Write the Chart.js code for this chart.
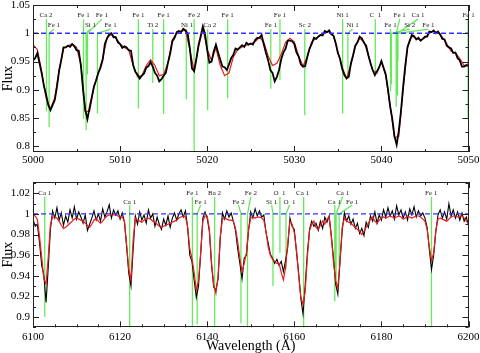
<!DOCTYPE html>
<html>
<head>
<meta charset="utf-8">
<script src="https://cdn.jsdelivr.net/npm/chart.js@4.4.1/dist/chart.umd.min.js"></script>
<style>
  html, body { margin: 0; padding: 0; background: #fff; }
  #wrap { position: relative; width: 480px; height: 353px; overflow: hidden; }
  #topChart { position: absolute; left: 0; top: 0; }
  #botChart { position: absolute; left: 0; top: 170px; }
</style>
</head>
<body>
<div id="wrap">
  <canvas id="topChart" width="480" height="170"></canvas>
  <canvas id="botChart" width="480" height="183"></canvas>
</div>
<script>
// ---- top panel: 5000-5050 A ----
const topStart = 5000, topStep = 0.25;
const topFlux = [
  0.952,0.956,0.965,0.947,0.929,0.907,0.892,0.873,0.864,0.873,0.882,0.905,0.934,0.953,0.975,0.975,0.978,0.976,0.981,0.977,
  0.970,0.969,0.943,0.900,0.864,0.848,0.869,0.887,0.906,0.917,0.930,0.939,0.953,0.981,0.991,0.998,1.000,0.993,0.993,0.984,
  0.981,0.974,0.977,0.975,0.970,0.969,0.944,0.932,0.927,0.920,0.925,0.929,0.939,0.942,0.949,0.941,0.930,0.925,0.915,0.919,
  0.925,0.930,0.948,0.964,0.986,0.992,1.002,1.004,1.002,1.008,1.005,1.000,0.974,0.938,0.933,0.954,0.979,0.995,1.012,0.999,
  0.970,0.948,0.950,0.968,0.980,0.966,0.953,0.941,0.940,0.935,0.945,0.956,0.962,0.973,0.971,0.975,0.979,0.976,0.983,0.980,
  0.982,0.980,0.988,0.992,0.992,0.997,0.980,0.965,0.952,0.935,0.930,0.915,0.923,0.935,0.954,0.966,0.973,0.987,0.987,0.986,
  0.981,0.966,0.959,0.945,0.941,0.942,0.959,0.973,0.981,0.992,0.990,0.994,0.997,0.996,1.004,1.002,1.005,0.998,0.996,0.983,
  0.965,0.955,0.937,0.926,0.920,0.923,0.947,0.961,0.978,0.984,0.994,0.991,0.983,0.978,0.961,0.947,0.935,0.926,0.933,0.940,
  0.951,0.939,0.927,0.901,0.871,0.849,0.818,0.803,0.828,0.863,0.906,0.944,0.976,0.987,0.997,0.995,0.989,0.992,0.987,0.990,
  0.994,0.994,1.003,1.002,1.005,1.000,1.003,0.998,0.990,0.989,0.978,0.975,0.973,0.965,0.966,0.956,0.952,0.941,0.941,0.943,
  0.943
];
const topModelStep = 0.5;
const topModel = [
  0.980,0.971,0.932,0.886,0.866,0.886,0.935,0.973,0.978,0.981,
  0.975,0.945,0.862,0.862,0.905,0.930,0.955,0.992,0.998,0.992,
  0.981,0.975,0.970,0.943,0.923,0.925,0.943,0.953,0.943,0.925,
  0.927,0.948,0.988,1.000,1.004,1.005,0.972,0.933,0.975,1.008,
  0.972,0.952,0.974,0.943,0.925,0.930,0.958,0.971,0.976,0.979,
  0.981,0.985,0.993,0.984,0.960,0.943,0.947,0.963,0.984,0.991,
  0.985,0.960,0.942,0.958,0.985,0.991,0.996,1.001,1.003,0.995,
  0.968,0.940,0.920,0.944,0.977,0.991,0.985,0.962,0.934,0.930,
  0.950,0.925,0.872,0.815,0.818,0.900,0.975,0.995,0.991,0.988,
  0.992,1.000,1.004,1.001,0.993,0.982,0.968,0.965,0.955,0.943,
  0.946
];
const topXTicks = [5000, 5010, 5020, 5030, 5040, 5050];
const topYTicks = [0.8, 0.85, 0.9, 0.95, 1, 1.05];

const topLineWave  = [5001.55,5001.85,5005.8,5006.1,5006.25,5007.4,5012.1,5013.75,5015.0,5017.6,5018.5,5020.05,5022.35,
                      5027.3,5028.35,5031.2,5035.55,5036.15,5039.3,5041.05,5041.15,5041.7,5041.85,5041.9,5049.95];
const topLineDepth = [0.862,0.834,0.849,0.829,0.927,0.858,0.867,0.912,0.857,0.883,0.70,0.864,0.885,
                      0.902,0.918,0.855,0.858,0.921,0.930,0.897,0.910,0.870,0.890,0.950,0.849];
const topLineName  = ['Ca 2','Fe 1','Fe 1','Si 1','Fe 1','Fe 1','Fe 1','Ti 2','Fe 1','Ni 1','Fe 2','Ca 2','Fe 1',
                      'Fe 1','Fe 1','Sc 2','Ni 1','Ni 1','C  1','Fe 1','Si 2','Fe 1','Ca 1','Fe 1','Fe 1'];
const topLabelWave = [5001.5,5002.4,5005.8,5006.6,5007.9,5008.9,5012.1,5013.75,5015.0,5017.7,5018.5,5020.3,5022.35,
                      5027.3,5028.35,5031.2,5035.55,5036.7,5039.3,5041.05,5043.25,5042.1,5044.2,5045.4,5050.0];
const topLabelRow  = [1,2,1,2,1,2,1,2,1,2,1,2,1,2,1,2,1,2,1,2,2,1,1,2,1];

// ---- bottom panel: 6100-6200 A ----
const botStart = 6100, botStep = 0.5;
const botFlux = [
  0.995,0.988,0.990,0.972,0.950,0.940,0.914,0.948,0.985,1.003,0.996,1.006,0.994,1.001,0.989,0.998,0.992,1.004,0.996,1.007,
  0.995,1.002,0.997,0.991,0.999,0.984,0.990,0.996,1.003,0.994,1.000,0.993,1.005,0.997,1.002,1.009,0.996,1.004,0.999,1.003,
  0.995,1.001,0.992,0.968,0.942,0.930,0.966,0.998,0.990,1.002,0.994,0.999,0.991,1.004,0.996,1.000,0.988,0.997,0.990,0.985,
  0.995,0.989,0.998,0.987,0.996,1.001,0.994,1.000,1.004,0.997,1.003,0.987,0.960,0.954,0.936,0.919,0.930,0.961,0.996,1.002,
  0.996,0.983,0.950,0.929,0.926,0.937,0.976,1.001,0.995,1.003,0.997,1.001,0.993,0.984,0.966,0.952,0.937,0.957,0.960,0.984,
  1.002,0.996,1.005,0.998,1.003,0.997,0.999,0.982,0.972,0.961,0.957,0.952,0.956,0.950,0.954,0.944,0.955,0.968,0.996,0.988,
  0.985,0.963,0.943,0.918,0.903,0.930,0.962,0.985,0.993,0.988,0.991,0.984,0.993,0.986,0.997,0.992,0.998,0.979,0.957,0.932,
  0.922,0.954,0.984,1.001,0.993,0.998,0.990,0.995,0.986,0.991,0.981,0.986,0.979,0.992,0.987,0.998,0.993,1.002,0.991,0.999,
  0.994,1.004,0.997,1.006,0.998,1.003,0.995,1.008,0.999,1.004,0.996,1.002,0.994,1.005,0.999,1.007,0.997,1.003,0.998,1.001,
  0.996,0.987,0.966,0.946,0.960,0.983,0.999,1.004,0.996,1.002,0.995,1.010,0.998,1.004,0.996,1.002,0.994,1.001,0.993,0.997,
  0.989
];
const botModel = [
  0.999,0.998,0.995,0.978,0.958,0.937,0.932,0.958,0.990,0.997,0.997,0.996,0.993,0.989,0.986,0.987,0.989,0.991,0.993,0.995,
  0.996,0.995,0.994,0.993,0.991,0.989,0.987,0.990,0.994,0.996,0.993,0.991,0.993,0.996,0.998,0.999,0.999,0.999,0.999,0.998,
  0.997,0.997,0.993,0.970,0.946,0.936,0.975,0.996,0.994,0.993,0.992,0.994,0.995,0.996,0.995,0.993,0.992,0.990,0.988,0.987,
  0.988,0.989,0.990,0.991,0.992,0.993,0.994,0.996,0.997,0.998,0.997,0.988,0.966,0.957,0.943,0.926,0.935,0.962,0.993,0.998,
  0.998,0.985,0.953,0.931,0.923,0.940,0.978,0.995,0.996,0.995,0.994,0.994,0.993,0.986,0.973,0.957,0.944,0.952,0.962,0.985,
  0.996,0.997,0.996,0.997,0.997,0.996,0.994,0.983,0.968,0.960,0.956,0.954,0.952,0.952,0.943,0.936,0.948,0.972,0.993,0.990,
  0.982,0.965,0.940,0.920,0.912,0.925,0.958,0.984,0.990,0.993,0.987,0.985,0.989,0.993,0.990,0.995,0.997,0.978,0.953,0.935,
  0.928,0.955,0.987,0.996,0.993,0.992,0.991,0.989,0.987,0.985,0.983,0.980,0.983,0.987,0.991,0.995,0.997,0.993,0.991,0.994,
  0.996,0.997,0.996,0.997,0.998,0.997,0.996,0.997,0.998,0.997,0.995,0.996,0.998,0.997,0.996,0.997,0.998,0.998,0.997,0.995,
  0.993,0.985,0.968,0.955,0.962,0.984,0.995,0.996,0.995,0.994,0.993,0.995,0.997,0.998,0.998,0.997,0.998,0.998,0.996,0.993,
  0.991
];
const botXTicks = [6100, 6120, 6140, 6160, 6180, 6200];
const botYTicks = [0.9, 0.92, 0.94, 0.96, 0.98, 1, 1.02];

const botLineWave  = [6102.7,6122.2,6136.6,6137.7,6141.7,6147.75,6149.25,6155.1,6156.7,6158.1,6162.15,6169.3,6169.6,6170.3,6191.5];
const botLineDepth = [0.900,0.85,0.85,0.893,0.85,0.894,0.85,0.930,0.962,0.946,0.85,0.915,0.930,0.949,0.85];
const botLineName  = ['Ca 1','Ca 1','Fe 1','Fe 1','Ba 2','Fe 2','Fe 2','Si 1','O  1','O  1','Ca 1','Ca 1','Ca 1','Fe 1','Fe 1'];
const botLabelWave = [6102.7,6122.2,6136.6,6138.5,6141.7,6147.2,6150.0,6154.8,6156.6,6158.9,6161.9,6169.2,6171.1,6173.3,6191.4];
const botLabelRow  = [1,2,1,2,1,2,1,2,1,2,1,2,1,2,1];

// ---- helpers ----
const serif = '"Liberation Serif", "Times New Roman", serif';

function toPoints(start, step, arr) {
  return arr.map((v, i) => ({ x: start + i * step, y: v }));
}

// vertical id marks, with a slanted leader when the label sits off the line
function idMarks(wave, depth, labWave, row, rowTop) {
  const pts = [];
  wave.forEach((w, i) => {
    const top = rowTop[row[i] - 1];
    if (Math.abs(labWave[i] - w) > 0.3) {
      pts.push({ x: labWave[i], y: top });
      pts.push({ x: w, y: 1 });
    } else {
      pts.push({ x: w, y: top });
    }
    pts.push({ x: w, y: depth[i] });
    pts.push({ x: w, y: null });
  });
  return pts;
}

function makeFrame(p) {
  return {
    id: 'frame',
    afterDatasetsDraw(chart) {
      const { ctx, chartArea: a, scales: { x, y } } = chart;
      ctx.save();
      ctx.strokeStyle = '#222';
      ctx.lineWidth = 1;
      ctx.beginPath();
      const nx = Math.round((x.max - x.min) / p.xMinor);
      for (let i = 0; i <= nx; i++) {
        const v = x.min + i * p.xMinor;
        const len = p.xTicks.some(t => Math.abs(t - v) < 1e-6) ? 6 : 3;
        const px = Math.round(x.getPixelForValue(v)) + 0.5;
        ctx.moveTo(px, a.bottom); ctx.lineTo(px, a.bottom - len);
        ctx.moveTo(px, a.top); ctx.lineTo(px, a.top + len);
      }
      const k0 = Math.ceil(y.min / p.yMinor - 1e-6), k1 = Math.floor(y.max / p.yMinor + 1e-6);
      for (let k = k0; k <= k1; k++) {
        const v = k * p.yMinor;
        const len = p.yTicks.some(t => Math.abs(t - v) < 1e-6) ? 6 : 3;
        const py = Math.round(y.getPixelForValue(v)) + 0.5;
        ctx.moveTo(a.left, py); ctx.lineTo(a.left + len, py);
        ctx.moveTo(a.right, py); ctx.lineTo(a.right - len, py);
      }
      ctx.stroke();
      ctx.strokeRect(Math.round(a.left) + 0.5, Math.round(a.top) + 0.5,
                     Math.round(a.right - a.left) - 1, Math.round(a.bottom - a.top) - 1);
      ctx.fillStyle = '#222';
      ctx.font = '7px ' + serif;
      ctx.textAlign = 'center';
      ctx.textBaseline = 'middle';
      p.names.forEach((n, i) => {
        ctx.fillText(n, x.getPixelForValue(p.labWave[i]), y.getPixelForValue(p.rowText[p.rows[i] - 1]));
      });
      ctx.restore();
    }
  };
}

function fmt(v) { return String(+v.toFixed(3)); }

function buildChart(id, p) {
  return new Chart(document.getElementById(id), {
    type: 'line',
    data: {
      datasets: [
        { data: [{ x: p.xMin, y: 1 }, { x: p.xMax, y: 1 }], borderColor: '#3434f0', borderWidth: 1.3,
          borderDash: [5, 3], order: 0 },
        { data: p.model, borderColor: '#ec1a1a', borderWidth: 1.2, order: p.redOrder },
        { data: p.flux, borderColor: '#000', borderWidth: p.fluxWidth, order: 2 },
        { data: p.marks, borderColor: '#66ea5c', borderWidth: 1.3, order: 4, spanGaps: false }
      ]
    },
    options: {
      responsive: false,
      animation: false,
      events: [],
      elements: { point: { radius: 0 }, line: { tension: 0, fill: false } },
      layout: { padding: { top: p.padTop, right: 11.5, left: 0, bottom: 0 } },
      plugins: { legend: { display: false }, tooltip: { enabled: false } },
      scales: {
        x: {
          type: 'linear', min: p.xMin, max: p.xMax,
          grid: { display: false, drawTicks: false }, border: { display: false },
          ticks: { font: { family: serif, size: 11 }, color: '#000', padding: p.xPad,
                   maxRotation: 0, autoSkip: false, callback: v => String(v) },
          afterBuildTicks: s => { s.ticks = p.xTicks.map(v => ({ value: v })); },
          afterFit: s => { s.height = p.xHeight; s.paddingLeft = 0; s.paddingRight = 0; },
          title: p.xTitle ? { display: true, text: p.xTitle, color: '#000',
                              font: { family: serif, size: 14 }, padding: { top: 0, bottom: -2 } }
                          : { display: false }
        },
        y: {
          min: p.yMin, max: p.yMax,
          grid: { display: false, drawTicks: false }, border: { display: false },
          ticks: { font: { family: serif, size: 11 }, color: '#000', padding: 3, callback: fmt },
          afterBuildTicks: s => { s.ticks = p.yTicks.map(v => ({ value: v })); },
          afterFit: s => { s.width = 33; s.paddingTop = 0; s.paddingBottom = 0; },
          title: { display: true, text: 'Flux', color: '#000', font: { family: serif, size: 14 }, padding: 0 }
        }
      }
    },
    plugins: [makeFrame(p)]
  });
}

// top: observed spectrum drawn over the model
const topRowTop = [1.025, 1.0075];
buildChart('topChart', {
  xMin: 5000, xMax: 5050, yMin: 0.79, yMax: 1.05, padTop: 5, xHeight: 18, xPad: 2,
  xTicks: topXTicks, yTicks: topYTicks, xMinor: 5, yMinor: 0.025,
  flux: toPoints(topStart, topStep, topFlux), fluxWidth: 1.8, redOrder: 3,
  model: toPoints(topStart, topModelStep, topModel),
  marks: idMarks(topLineWave, topLineDepth, topLabelWave, topLabelRow, topRowTop),
  names: topLineName, labWave: topLabelWave, rows: topLabelRow, rowText: [1.0323, 1.0146]
});

// bottom: model drawn over the noisy spectrum
const botRowTop = [1.0166, 1.0086];
buildChart('botChart', {
  xMin: 6100, xMax: 6200, yMin: 0.89, yMax: 1.031, padTop: 12, xHeight: 25.7, xPad: 3,
  xTicks: botXTicks, yTicks: botYTicks, xMinor: 5, yMinor: 0.01, xTitle: 'Wavelength (A)',
  flux: toPoints(botStart, botStep, botFlux), fluxWidth: 1.1, redOrder: 1,
  model: toPoints(botStart, botStep, botModel),
  marks: idMarks(botLineWave, botLineDepth, botLabelWave, botLabelRow, botRowTop),
  names: botLineName, labWave: botLabelWave, rows: botLabelRow, rowText: [1.0198, 1.0118]
});
</script>
</body>
</html>
